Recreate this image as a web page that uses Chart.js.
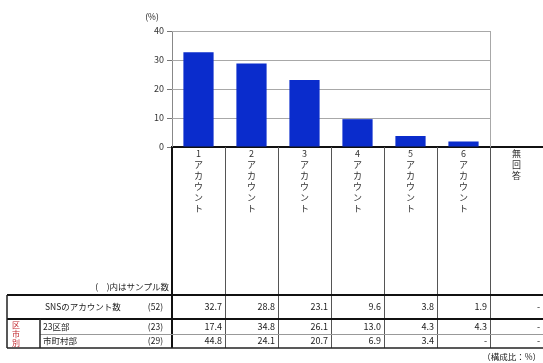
<!DOCTYPE html>
<html>
<head>
<meta charset="utf-8">
<script src="https://cdn.jsdelivr.net/npm/chart.js@4"></script>
<style>
  body { margin: 0; background: #fff; }
  canvas { display: block; }
</style>
</head>
<body>
<canvas id="chart" width="543" height="363"></canvas>
<script>
const categories = ['1アカウント', '2アカウント', '3アカウント', '4アカウント', '5アカウント', '6アカウント', '無回答'];
const overall = [32.7, 28.8, 23.1, 9.6, 3.8, 1.9, null];
const ku23 = [17.4, 34.8, 26.1, 13.0, 4.3, 4.3, null];
const shichoson = [44.8, 24.1, 20.7, 6.9, 3.4, null, null];
const rowLabels = ['SNSのアカウント数', '23区部', '市町村部'];
const sampleSizes = ['(52)', '(23)', '(29)'];
const yTicks = [0, 10, 20, 30, 40];

const JP = '"Noto Sans CJK JP", "Noto Sans", sans-serif';
const barColor = '#0a2ccc';
const plotCols = 6; // columnas con area de grafico

const fmt = (v) => (v === null ? '-' : v.toFixed(1));

// Dibuja rejilla, columnas, etiquetas verticales y la tabla inferior
const tablePlugin = {
  id: 'tablePlugin',
  beforeDatasetsDraw(chart) {
    const { ctx, chartArea, scales } = chart;
    const x = scales.x;
    const y = scales.y;
    const half = (x.getPixelForValue(1) - x.getPixelForValue(0)) / 2;
    const plotRight = x.getPixelForValue(plotCols - 1) + half;
    ctx.save();
    ctx.strokeStyle = '#a8a8a8';
    ctx.lineWidth = 1;
    yTicks.forEach((t) => {
      if (t === 0) return;
      const py = Math.round(y.getPixelForValue(t)) + 0.5;
      ctx.beginPath();
      ctx.moveTo(chartArea.left, py);
      ctx.lineTo(plotRight, py);
      ctx.stroke();
    });
    ctx.beginPath();
    ctx.moveTo(Math.round(plotRight) + 0.5, chartArea.top);
    ctx.lineTo(Math.round(plotRight) + 0.5, chartArea.bottom);
    ctx.stroke();
    ctx.restore();
  },
  afterDraw(chart) {
    const { ctx, chartArea, scales } = chart;
    const x = scales.x;
    const half = (x.getPixelForValue(1) - x.getPixelForValue(0)) / 2;
    const left = chartArea.left;
    const right = x.getPixelForValue(categories.length - 1) + half;
    const axisY = chartArea.bottom;

    const tableTop = 295;
    const rowBottoms = [319, 334, 348];
    const rowMids = [307, 327, 341];
    const tableLeft = 7;
    const innerLeft = 40;

    ctx.save();

    // lineas verticales de columna
    categories.forEach((c, i) => {
      const bx = Math.round(x.getPixelForValue(i) + half) + 0.5;
      ctx.strokeStyle = '#555';
      ctx.lineWidth = 1;
      ctx.beginPath();
      ctx.moveTo(bx, axisY);
      ctx.lineTo(bx, rowBottoms[2]);
      ctx.stroke();
    });
    ctx.strokeStyle = '#111';
    ctx.lineWidth = 2;
    ctx.beginPath();
    ctx.moveTo(left, axisY);
    ctx.lineTo(left, rowBottoms[2]);
    ctx.stroke();

    // etiquetas verticales
    ctx.fillStyle = '#333';
    ctx.font = '9px ' + JP;
    ctx.textAlign = 'center';
    ctx.textBaseline = 'middle';
    categories.forEach((c, i) => {
      const cx = x.getPixelForValue(i);
      const chars = c.match(/^\d+/) ? [c.match(/^\d+/)[0], ...c.replace(/^\d+/, '')] : [...c];
      chars.forEach((ch, k) => {
        ctx.fillText(ch, cx, 154 + k * 11);
      });
    });

    // lineas horizontales de la tabla
    const hline = (yy, x0, x1, w, col) => {
      ctx.strokeStyle = col;
      ctx.lineWidth = w;
      ctx.beginPath();
      ctx.moveTo(x0, yy);
      ctx.lineTo(x1, yy);
      ctx.stroke();
    };
    hline(tableTop, tableLeft, right, 2, '#111');
    hline(rowBottoms[0], tableLeft, right, 2, '#111');
    hline(rowBottoms[1] + 0.5, innerLeft, right, 1, '#999');
    hline(rowBottoms[2], tableLeft, right, 1.5, '#222');

    // lineas verticales de la parte izquierda
    ctx.strokeStyle = '#222';
    ctx.lineWidth = 1.5;
    ctx.beginPath();
    ctx.moveTo(tableLeft, tableTop);
    ctx.lineTo(tableLeft, rowBottoms[2]);
    ctx.moveTo(innerLeft, rowBottoms[0]);
    ctx.lineTo(innerLeft, rowBottoms[2]);
    ctx.stroke();

    // texto de la tabla
    ctx.fillStyle = '#222';
    ctx.font = '8.5px ' + JP;
    ctx.textAlign = 'right';
    ctx.fillText('(\u3000)内はサンプル数', left - 3, tableTop - 8);

    ctx.textAlign = 'left';
    ctx.fillText(rowLabels[0], 45, rowMids[0]);
    ctx.fillText(rowLabels[1], 43, rowMids[1]);
    ctx.fillText(rowLabels[2], 43, rowMids[2]);
    ctx.textAlign = 'right';
    sampleSizes.forEach((s, r) => ctx.fillText(s, 163, rowMids[r]));

    // etiqueta roja vertical
    ctx.fillStyle = '#c0262d';
    ctx.textAlign = 'center';
    ctx.font = '8px ' + JP;
    ['区', '市', '別'].forEach((ch, k) => ctx.fillText(ch, 16, 325 + k * 9));

    // valores
    ctx.fillStyle = '#222';
    ctx.textAlign = 'right';
    ctx.font = '9px ' + JP;
    [overall, ku23, shichoson].forEach((row, r) => {
      row.forEach((v, i) => {
        const rx = x.getPixelForValue(i) + half - 3;
        ctx.fillText(fmt(v), rx, rowMids[r]);
      });
    });

    ctx.font = '8.5px ' + JP;
    ctx.fillText('（構成比：%）', 541, 357);

    // unidad del eje y
    ctx.textAlign = 'center';
    ctx.fillText('(%)', 152, 17);

    ctx.restore();
  },
};

new Chart(document.getElementById('chart'), {
  type: 'bar',
  data: {
    labels: categories,
    datasets: [
      {
        data: overall,
        backgroundColor: barColor,
        borderWidth: 0,
        categoryPercentage: 1,
        barPercentage: 0.57,
      },
    ],
  },
  options: {
    responsive: false,
    devicePixelRatio: 1,
    animation: false,
    layout: { padding: { left: 142, top: 31, right: 0, bottom: 216 } },
    plugins: {
      legend: { display: false },
      tooltip: { enabled: false },
    },
    scales: {
      x: {
        grid: { display: false },
        ticks: { display: false },
        border: { display: true, color: '#111', width: 2 },
        afterFit: (s) => { s.height = 0; },
      },
      y: {
        min: 0,
        max: 40,
        afterBuildTicks: (s) => { s.ticks = yTicks.map((v) => ({ value: v })); },
        ticks: {
          color: '#333',
          font: { size: 9, family: JP },
          padding: 3,
        },
        grid: { display: true, drawOnChartArea: false, tickLength: 5, color: '#777' },
        border: { display: true, color: '#888', width: 1 },
        afterFit: (s) => { s.width = 30; },
      },
    },
  },
  plugins: [tablePlugin],
});
</script>
</body>
</html>
